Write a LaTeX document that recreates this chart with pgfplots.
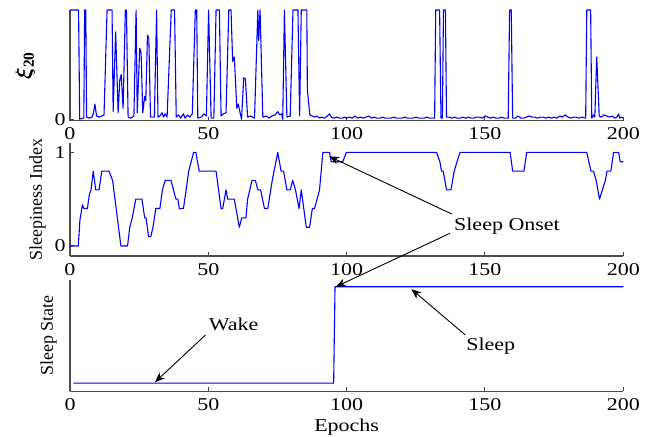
\documentclass[border=0pt]{standalone}
\usepackage{pgfplots}
\pgfplotsset{compat=1.18}
\usepackage{fontspec}
\setmainfont{Liberation Serif}
\usepackage{bm}
\usetikzlibrary{arrows.meta}

\definecolor{mblue}{rgb}{0,0,1}

\pgfplotsset{
  panel/.style={
    scale only axis, width=276.65pt,
    xmin=0, xmax=200,
    axis x line=bottom, axis y line=left,
    axis line style={-, black!70, line width=0.65pt},
    tick align=inside, major tick length=2pt,
    tick style={black!75, line width=0.5pt},
    xtick={0,50,100,150,200},
    /pgf/number format/assume math mode=true,
    xticklabel={\scalebox{1}[0.82]{\pgfmathprintnumber{\tick}}},
    yticklabel={\scalebox{1}[0.82]{\pgfmathprintnumber{\tick}}},
    ticklabel style={font=\fontsize{11}{12}\selectfont},
    yticklabel style={inner sep=2pt},
    ylabel style={font=\fontsize{9}{10}\selectfont, anchor=center, rotate=0},
    clip=false,
  },
  blueline/.style={mblue, line width=0.55pt, line join=round},
}

\begin{document}
\begin{tikzpicture}
% ---------------- top panel ----------------
\begin{axis}[panel,
  at={(35pt,-60.35pt)}, anchor=south west, height=55.35pt,
  ymin=-0.013, ymax=1,
  ytick={0},
  ylabel={\fontsize{11}{12}\selectfont$\bm{\xi}_{\mathbf{20}}$},
  ylabel style={at={(axis description cs:-0.081,0.5)}},
]
\addplot[blueline] coordinates {
(0,1)(3.1,1)(3.5,0)(4.5,0.01)(5.0,0.01)(5.3,1)(5.7,1)(6.0,0.02)(7,0.01)(8,0.02)(8.5,0.06)(9.0,0.14)(9.6,0.03)(10.5,0.02)(11.5,0.03)(12.3,0.04)
(13.4,1)(15.2,1)(15.6,0.07)(16.5,0.8)(17.4,0.06)(18.0,0.36)(18.5,0.41)(19.2,0.1)(20.0,1)(20.4,1)(21.0,0.02)(22,0.01)(23.1,0.03)
(23.9,1)(24.3,0.06)(25.2,0.65)(25.7,0.61)(26.3,0.06)(27.0,0.21)(27.4,0.17)(28.0,0.77)(28.5,0.74)(29.1,0.02)(30.5,0.02)
(31.3,1)(31.8,0.02)(32.5,0.03)(33.3,0.06)(33.8,0.02)(34.4,0.05)(35.1,0.02)(36.6,1)(37.8,1)(38.4,0.02)(39.2,0.04)(40,0.01)
(41,0.05)(41.6,0.01)(42.5,0.04)(43.3,0.02)(44.2,0.05)(45.3,1)(45.8,1)(46.2,0.01)(47.5,0.02)(48.4,0.05)(49.3,0.03)
(50.1,1)(51.0,0.01)(52.0,0.01)(52.8,1)(54.0,1)(54.6,0.03)(55.5,0.05)(56.4,0.06)(57.4,1)(58.2,1)(58.8,0.53)(59.4,0.57)
(60.3,0.1)(60.8,0.14)(62.0,0.0)(62.8,0.38)(63.4,0.37)(64.2,0.02)(65.3,0.03)(66.7,0.01)(67.9,1)(68.2,0.72)(68.7,1)(69.7,0.02)
(71,0.03)(72,0.01)(73,0.03)(74.2,0.04)(75.1,0.07)(75.8,0.04)(76.5,0.05)(76.9,0.0)(77.5,1)(78.4,0.02)(79.6,0.03)
(80.6,1)(82.4,1)(83.0,0.03)(83.6,1)(85.6,1)(85.8,0.27)(86.7,0.04)(87.5,0.03)(88.5,0.02)(89.3,0.03)(90.2,0.01)(91,0.02)
(92,0.01)(93,0.03)(93.8,0.05)(94.5,0.02)(95.5,0.01)(96.5,0.02)(97.5,0.01)(98.5,0.01)(99.3,0.02)
(100,0.01)(101,0.02)(102,0.01)(103,0.03)(104,0.01)(105,0.02)(106,0.01)(107,0.02)(108,0.03)(109,0.01)(110,0.02)(111,0.01)
(112,0.01)(113,0.02)(114,0.01)(116,0.01)(117,0.02)(118,0.01)(120,0.01)(121,0.02)(122,0.01)(124,0.01)(125,0.02)(126,0.01)
(128,0.01)(129,0.02)(130,0.01)(131.8,0.01)(132.2,1)(133.6,1)(134.1,0.01)(134.6,0.01)(135.0,1)(135.7,1)(136.1,0.02)
(137,0.02)(138,0.01)(139,0.02)(140,0.01)(141,0.01)(142,0.02)(143,0.01)(144,0.02)(145,0.01)(146,0.01)(147,0.02)(148,0.02)
(149,0.01)(150,0.03)(151,0.02)(152,0.01)(153,0.02)(154,0.01)(155,0.01)(156,0.02)(157,0.01)(158.4,0.01)(158.9,1)(159.5,1)
(160.0,0.01)(161,0.01)(162,0.03)(163,0.01)(164,0.01)(165,0.02)(166,0.03)(167,0.02)(168,0.02)(169,0.01)(170,0.02)(171,0.02)
(172,0.01)(173,0.02)(174,0.01)(175,0.02)(176,0.01)(177,0.03)(178,0.02)(179,0.04)(180,0.02)(181,0.01)(182,0.02)(183,0.02)
(184,0.01)(185,0.02)(186.4,0.01)(186.8,1)(188.2,1)(188.6,0.01)(189.3,0.04)(189.7,0.02)(190.4,0.57)(191.3,0.03)(192,0.02)
(193,0.04)(194,0.03)(195,0.02)(196,0.03)(197,0.01)(197.7,0.02)(198.3,0.05)(198.7,0.01)(199.3,0.02)(200,0.01)
};
\end{axis}
% ---------------- middle panel ----------------
\begin{axis}[panel,
  at={(35pt,-128pt)}, anchor=south west, height=56.5pt,
  ymin=-0.107, ymax=1.1,
  ytick={0,1},
  ylabel={Sleepiness Index},
  ylabel style={at={(axis description cs:-0.0587,0.5)}, rotate=0},
]
\addplot[blueline] coordinates {
(0,0)(3,0)(3.6,0.28)(4.5,0.44)(5,0.4)(6.3,0.4)(7,0.55)(7.6,0.6)(8.4,0.8)(9.3,0.6)(10.5,0.6)(11.5,0.8)(14.1,0.8)(15.4,0.7)
(18.4,0)(20.8,0)(21.6,0.2)(22.5,0.3)(23.8,0.5)(26,0.5)(27,0.3)(27.5,0.3)(28.4,0.1)(29.2,0.1)(30,0.2)(31,0.4)(32.5,0.4)
(33.4,0.6)(34.4,0.7)(36.5,0.7)(37.4,0.6)(38.3,0.5)(39,0.5)(39.5,0.4)(41,0.4)(42,0.6)(42.9,0.8)(43.8,0.9)(44.7,1)(45.5,1)
(46.7,0.8)(52.8,0.8)(54.6,0.4)(55.2,0.4)(56.4,0.6)(57,0.5)(59.4,0.5)(61.2,0.2)(62.1,0.3)(63.6,0.3)(64.2,0.5)(65.8,0.7)
(67,0.7)(67.9,0.6)(68.9,0.6)(70.3,0.4)(71.5,0.4)(73.1,0.7)(75.1,1)(76.3,0.8)(77.2,0.8)(78.4,0.6)(79.6,0.6)(80.5,0.7)
(81.5,0.6)(82.8,0.4)(83.6,0.6)(85.4,0.2)(86.6,0.2)(87.6,0.4)(88.4,0.4)(90.2,0.6)(91.4,1)(93.8,1)(94.4,0.9)(98.6,0.9)
(99.9,1)(132.5,1)(133.7,0.9)(134.3,0.8)(134.9,0.8)(136.1,0.6)(137.7,0.6)(138.9,0.8)(139.9,0.9)(141,1)(159.1,1)(160,0.8)
(164.1,0.8)(165.1,1)(186.8,1)(188.3,0.8)(189.2,0.8)(190.2,0.7)(191.4,0.5)(193.5,0.7)(194.1,0.8)(195.5,0.8)(196.5,1)
(198.3,1)(198.9,0.9)(200,0.9)
};
\coordinate (onsetA) at (axis cs:93.7,0.957);
\end{axis}
% ---------------- bottom panel ----------------
\begin{axis}[panel,
  at={(35pt,-195.75pt)}, anchor=south west, height=55.75pt,
  ymin=-0.086, ymax=1.07,
  ytick=\empty,
  ylabel={Sleep State},
  ylabel style={at={(axis description cs:-0.0389,0.5)}},
  xlabel={\scalebox{1}[0.82]{Epochs}},
  xlabel style={font=\fontsize{11}{12}\selectfont, at={(axis description cs:0.5,-0.318)}, anchor=center},
]
\addplot[blueline] coordinates {(1.2,0)(95.3,0)(95.8,1)(200,1)};
\coordinate (onsetB) at (axis cs:96.1,1);
\coordinate (waketip) at (axis cs:30.7,0.01);
\coordinate (sleeptip) at (axis cs:123.4,0.975);
\end{axis}
% ---------------- annotations ----------------
\tikzset{ann/.style={black, line width=0.45pt, -{Stealth[length=5pt,width=4pt,inset=1.5pt]}}}
\node[font=\fontsize{11}{12}\selectfont, inner sep=0pt] at (253.5pt,-113.25pt) {\scalebox{1}[0.82]{Sleep Onset}};
\draw[ann] (225.85pt,-107pt) -- (onsetA);
\draw[ann] (225pt,-116.65pt) -- (onsetB);
\node[font=\fontsize{11}{12}\selectfont, inner sep=0pt] at (116.8pt,-162pt) {\scalebox{1}[0.82]{Wake}};
\draw[ann] (102.75pt,-167.5pt) -- (waketip);
\node[font=\fontsize{11}{12}\selectfont, inner sep=0pt] at (245.4pt,-173.25pt) {\scalebox{1}[0.82]{Sleep}};
\draw[ann] (232.65pt,-167.5pt) -- (sleeptip);
\pgfresetboundingbox
\path[use as bounding box] (0pt,0pt) rectangle (324.5pt,-218.5pt);
\end{tikzpicture}
\end{document}
